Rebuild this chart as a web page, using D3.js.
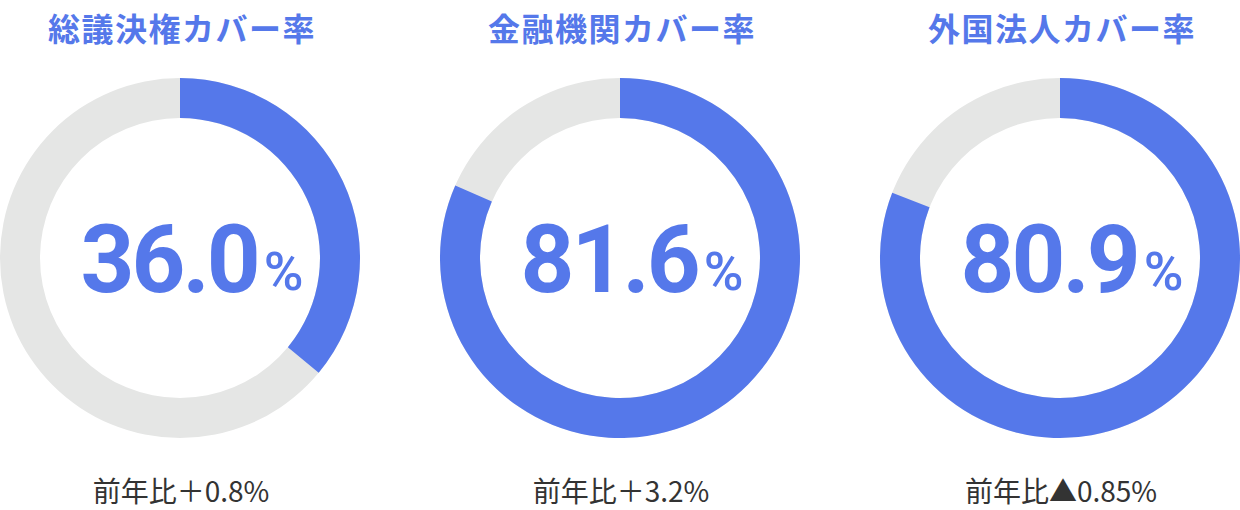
<!DOCTYPE html>
<html>
<head>
<meta charset="utf-8">
<script src="https://cdn.jsdelivr.net/npm/d3@7"></script>
<style>
  body { margin: 0; background: #fff; }
  svg text { font-family: "Noto Sans CJK JP", "Noto Sans", sans-serif; }
  svg text.big { font-family: Roboto, "Noto Sans", sans-serif; }
</style>
</head>
<body>
<div id="chart"></div>
<script>
// values
const titles = ["総議決権カバー率", "金融機関カバー率", "外国法人カバー率"];
const rates = [36.0, 81.6, 80.9];
const changes = ["前年比＋0.8%", "前年比＋3.2%", "前年比▲0.85%"];

const width = 1240, height = 510;
const blue = "#5578ea", grey = "#e5e6e5";
const outerR = 180, innerR = 140, cy = 258;

const svg = d3.select("#chart").append("svg")
    .attr("width", width)
    .attr("height", height);

const x = d3.scalePoint()
    .domain(titles)
    .range([180, 1060]);

const pct = d3.scaleLinear().domain([0, 100]).range([0, 2 * Math.PI]);

const arc = d3.arc()
    .innerRadius(innerR)
    .outerRadius(outerR);

const groups = svg.selectAll("g.donut")
    .data(titles.map((t, i) => ({ title: t, rate: rates[i], change: changes[i] })))
    .enter()
    .append("g")
    .attr("class", "donut")
    .attr("transform", d => `translate(${x(d.title)},0)`);

groups.append("text")
    .attr("x", 2)
    .attr("y", 41)
    .attr("text-anchor", "middle")
    .style("font-size", "32px")
    .style("font-weight", 700)
    .style("letter-spacing", "1.5px")
    .style("fill", blue)
    .text(d => d.title);

const ring = groups.append("g").attr("transform", `translate(0,${cy})`);

ring.append("path")
    .style("fill", grey)
    .attr("d", arc({ startAngle: 0, endAngle: 2 * Math.PI }));

ring.append("path")
    .style("fill", blue)
    .attr("d", d => arc({ startAngle: 0, endAngle: pct(d.rate) }));

const big = groups.append("text")
    .attr("class", "big")
    .attr("x", 12)
    .attr("y", 292)
    .attr("text-anchor", "middle")
    .style("fill", blue)
    .style("font-weight", 700);

big.append("tspan")
    .style("font-size", "94px")
    .style("letter-spacing", "-3px")
    .text(d => d.rate.toFixed(1));

big.append("tspan")
    .attr("dx", 6)
    .attr("dy", -2)
    .style("font-size", "54px")
    .style("font-weight", 500)
    .text("%");

groups.append("text")
    .attr("x", 1)
    .attr("y", 502)
    .attr("text-anchor", "middle")
    .style("font-size", "28px")
    .style("fill", "#333")
    .text(d => d.change);
</script>
</body>
</html>
